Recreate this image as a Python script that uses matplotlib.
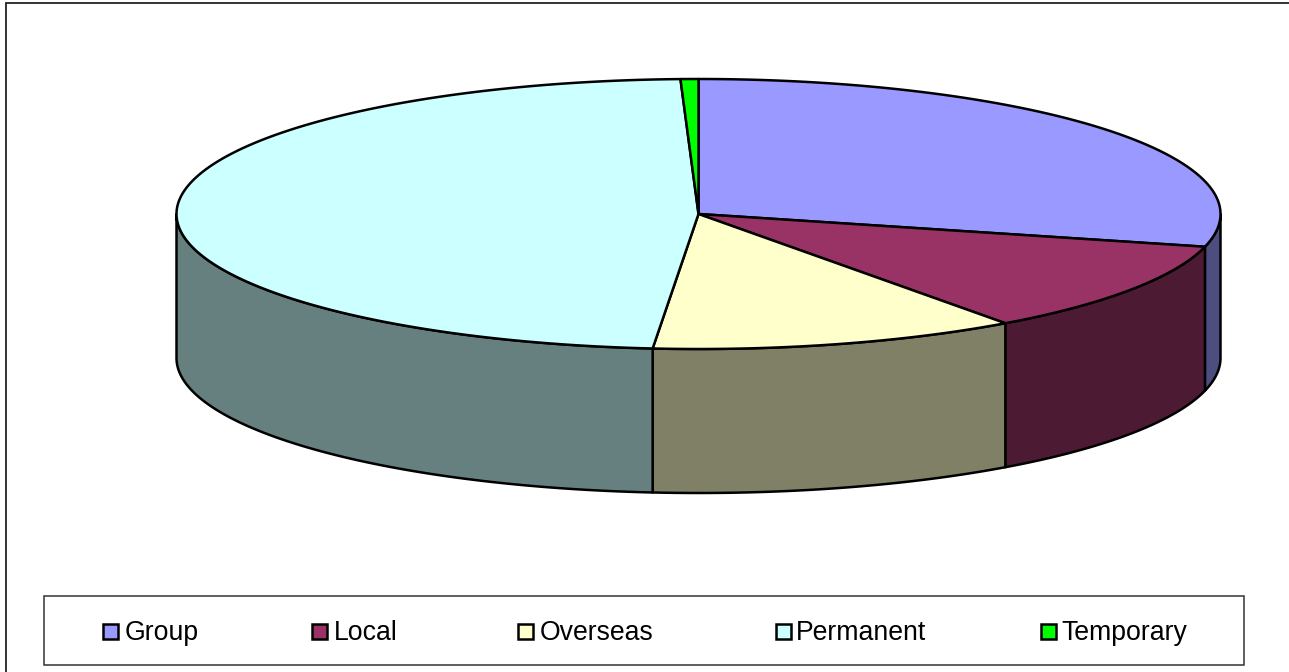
#!/usr/bin/env python3
"""Staff split as a tilted 3-D pie with a boxed legend underneath."""

import matplotlib

matplotlib.use("Agg")  # headless
import matplotlib.pyplot as plt  # noqa: E402
import numpy as np  # noqa: E402
from matplotlib.patches import Polygon, Rectangle  # noqa: E402

plt.rcParams["font.family"] = ["Liberation Sans", "DejaVu Sans"]

CATEGORIES = ["Group", "Local", "Overseas", "Permanent", "Temporary"]
SHARES = [28.9, 11.1, 11.4, 48.05, 0.55]
TOP_COLORS = ["#9999FF", "#993366", "#FFFFCC", "#CCFFFF", "#00FF00"]
SIDE_COLORS = ["#4D4D80", "#4D1A33", "#808066", "#668080", "#008000"]
LEGEND_X = [102, 311, 517, 775, 1040]
LEGEND_TEXT_X = [125, 334, 540, 796, 1061]

# pie geometry in pixels
CX, CY = 698.5, 214.0
RX, RY = 522.0, 135.0
DEPTH = 144.0
LW = 1.8


def arc(start, stop, drop=0.0):
    # angles run clockwise from twelve o'clock, in radians
    t = np.linspace(start, stop, max(2, int(abs(stop - start) * 200)))
    return np.column_stack([CX + RX * np.sin(t), CY - RY * np.cos(t) + drop])


fig = plt.figure(figsize=(12.89, 6.72), dpi=100)
ax = fig.add_axes([0, 0, 1, 1])
ax.set_xlim(0, 1289)
ax.set_ylim(672, 0)
ax.axis("off")

# chart frame, right and bottom edges run off the canvas
ax.add_patch(Rectangle((6, 2.5), 1300, 690, fc="white", ec="#222222", lw=1.3))

edges = np.cumsum([0.0] + SHARES) / sum(SHARES) * 2 * np.pi

# side wall: only the part of each slice facing the viewer (90 to 270 degrees)
for start, stop, color in zip(edges[:-1], edges[1:], SIDE_COLORS):
    lo, hi = max(start, np.pi / 2), min(stop, 3 * np.pi / 2)
    if lo >= hi:
        continue
    upper = arc(lo, hi)
    lower = arc(lo, hi, DEPTH)[::-1]
    ax.add_patch(Polygon(np.vstack([upper, lower]), closed=True, fc=color, ec="black",
                         lw=LW, joinstyle="round", zorder=2))

# top face
for start, stop, color in zip(edges[:-1], edges[1:], TOP_COLORS):
    pts = np.vstack([[CX, CY], arc(start, stop)])
    ax.add_patch(Polygon(pts, closed=True, fc=color, ec="black", lw=LW,
                         joinstyle="round", zorder=3))

# legend box
ax.add_patch(Rectangle((44, 596), 1200, 69, fc="white", ec="#333333", lw=1.1, zorder=1))
for name, color, x, tx in zip(CATEGORIES, TOP_COLORS, LEGEND_X, LEGEND_TEXT_X):
    ax.add_patch(Rectangle((x + 0.5, 623.5), 15, 15, fc=color, ec="black", lw=1.8, zorder=4))
    ax.text(tx, 640, name, fontsize=19.2, color="black", va="baseline", ha="left", zorder=4)

fig.savefig("out.png", dpi=100)
